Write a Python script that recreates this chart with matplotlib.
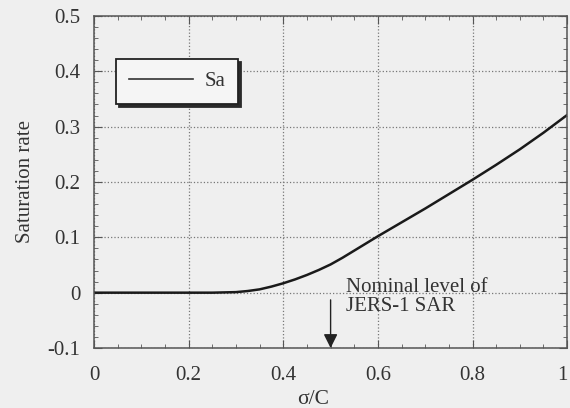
import matplotlib.pyplot as plt
from matplotlib.ticker import MultipleLocator

# Data
sigma_c = [0.0, 0.1, 0.2, 0.25, 0.3, 0.325, 0.35, 0.375, 0.4, 0.425, 0.45,
           0.475, 0.5, 0.525, 0.55, 0.575, 0.6, 0.65, 0.7, 0.75, 0.8, 0.85,
           0.9, 0.95, 1.0]
sat_rate = [0.0, 0.0, 0.0, 0.0, 0.001, 0.003, 0.006, 0.011, 0.017, 0.024,
            0.032, 0.041, 0.051, 0.063, 0.076, 0.089, 0.102, 0.127, 0.152,
            0.178, 0.204, 0.231, 0.259, 0.289, 0.321]

X_TICKS = [0, 0.2, 0.4, 0.6, 0.8, 1]
X_TICK_LABELS = ['0', '0.2', '0.4', '0.6', '0.8', '1']
Y_TICKS = [-0.1, 0, 0.1, 0.2, 0.3, 0.4, 0.5]
Y_TICK_LABELS = ['-0.1', '0', '0.1', '0.2', '0.3', '0.4', '0.5']

BACKGROUND_COLOUR = '#efefef'
LINE_COLOUR = '#1a1a1a'
TEXT_COLOUR = '#333333'
AXIS_COLOUR = '#555555'

plt.rcParams['font.family'] = ['Liberation Serif', 'DejaVu Serif']
plt.rcParams['font.size'] = 15

fig = plt.figure(figsize=(5.7, 4.08), dpi=100)
fig.patch.set_facecolor(BACKGROUND_COLOUR)
ax = fig.add_axes([0.165, 0.147, 0.83, 0.814])
ax.set_facecolor(BACKGROUND_COLOUR)

ax.plot(sigma_c, sat_rate, color=LINE_COLOUR, linewidth=1.8, label='Sa')

ax.set_xlim(0, 1)
ax.set_ylim(-0.1, 0.5)
ax.set_xticks(X_TICKS)
ax.set_xticklabels(X_TICK_LABELS)
ax.set_yticks(Y_TICKS)
ax.set_yticklabels(Y_TICK_LABELS)
# last x label sits on the figure edge, keep it inside
ax.get_xticklabels()[-1].set_horizontalalignment('right')
ax.xaxis.set_minor_locator(MultipleLocator(0.05))
ax.yaxis.set_minor_locator(MultipleLocator(0.02))
ax.tick_params(which='both', direction='in', top=True, right=True,
               colors=AXIS_COLOUR, labelcolor=TEXT_COLOUR, labelsize=15)
ax.tick_params(axis='x', which='major', length=6, pad=13)
ax.tick_params(axis='y', which='major', length=6, pad=10)
ax.tick_params(which='minor', length=3)
ax.grid(True, which='major', linestyle=':', color='#777777', linewidth=0.9)
for spine in ax.spines.values():
    spine.set_color(AXIS_COLOUR)
    spine.set_linewidth(1.1)

ax.set_xlabel('σ/C', color=TEXT_COLOUR, fontsize=15.5)
ax.xaxis.set_label_coords(0.463, -0.125)
ax.set_ylabel('Saturation rate', color=TEXT_COLOUR, fontsize=15)
ax.yaxis.set_label_coords(-0.125, 0.5)

# Nominal level arrow
ax.annotate('', xy=(0.5, -0.1), xytext=(0.5, -0.013),
            arrowprops=dict(arrowstyle='-|>', color='#222222', lw=1,
                            mutation_scale=21, shrinkA=0, shrinkB=0))
ax.text(0.533, 0.026, 'Nominal level of\nJERS-1 SAR', color=TEXT_COLOUR,
        fontsize=15, va='top', ha='left', linespacing=1.0)

leg = ax.legend(loc='upper left', bbox_to_anchor=(0.047, 0.870),
                fancybox=False, frameon=True, fontsize=15,
                shadow={'ox': 2.2, 'oy': -2.2, 'color': '#2a2a2a', 'alpha': 1},
                handlelength=3.1, handletextpad=0.55, borderpad=0.6,
                borderaxespad=0)
leg.get_frame().set_edgecolor('#222222')
leg.get_frame().set_linewidth(1.3)
leg.get_frame().set_facecolor('#f5f5f5')
leg.get_frame().set_alpha(1)
for t in leg.get_texts():
    t.set_color(TEXT_COLOUR)
for line in leg.get_lines():
    line.set_linewidth(1.2)
    line.set_color('#333333')

fig.savefig('out.png', dpi=100, facecolor=fig.get_facecolor())
